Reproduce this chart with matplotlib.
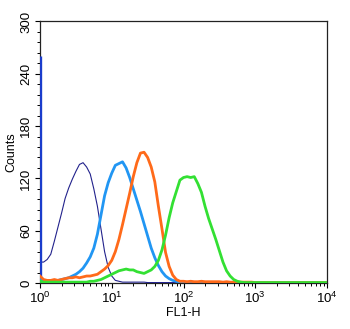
import numpy as np
import matplotlib
matplotlib.use("Agg")
import matplotlib.pyplot as plt
from matplotlib.ticker import MultipleLocator, LogLocator

plt.rcParams["font.family"] = ["Liberation Sans", "DejaVu Sans"]
plt.rcParams["mathtext.fontset"] = "custom"
plt.rcParams["mathtext.rm"] = "Liberation Sans"
plt.rcParams["mathtext.it"] = "Liberation Sans"
plt.rcParams["mathtext.bf"] = "Liberation Sans"

# histogram channels, in decades of FL1-H (10^0 .. 10^4)
log_channels = np.linspace(0.0, 4.0, 81)

# counts per channel
navy_counts = [
    24, 24, 27, 33, 48, 64, 80, 97, 109, 119, 128, 136, 138, 133, 125, 108,
    88, 62, 36, 18, 8, 3, 2, 1, 1, 1, 1, 1, 1, 1, 0.5, 0.5, 0.5, 0.5, 0.5,
    0.5, 0.5, 0.5, 0.5, 0.5, 0, 0, 0, 0, 0, 0, 0, 0, 0, 0, 0, 0, 0, 0, 0,
    0, 0, 0, 0, 0, 0, 0, 0, 0, 0, 0, 0, 0, 0, 0, 0, 0, 0, 0, 0, 0, 0, 0, 0,
    0, 0,
]
navy_spike = 260

lightblue_counts = [
    5, 2, 2, 3, 2, 3, 4, 5, 6, 8, 10, 13, 17, 23, 30, 40, 56, 78, 100, 115,
    126, 135, 137, 139, 132, 121, 108, 95, 82, 68, 54, 40, 29, 20, 13, 8, 5,
    3, 2, 1, 0.5, 0.5, 0, 0, 0, 0, 0, 0, 0, 0, 0, 0, 0, 0, 0, 0, 0, 0, 0, 0,
    0, 0, 0, 0, 0, 0, 0, 0, 0, 0, 0, 0, 0, 0, 0, 0, 0, 0, 0, 0, 0,
]

orange_counts = [
    8, 4, 3, 3, 4, 3, 4, 5, 6, 6, 7, 6, 7, 8, 8, 9, 10, 13, 16, 20, 26, 36,
    50, 67, 85, 103, 122, 138, 149, 150, 144, 133, 116, 88, 62, 35, 19, 9, 4,
    2, 2, 1.5, 2, 1.5, 1.5, 2, 1.5, 1.5, 1.5, 1.5, 1.5, 1, 1.5, 1, 1, 1, 1,
    1, 1, 1, 0.5, 0.5, 0.5, 0.5, 0.5, 0.5, 0.5, 0.5, 0.5, 0.5, 0.5, 0.5, 0.5,
    0.5, 0.5, 0.5, 0.5, 0.5, 0.5, 0.5, 0.5,
]

green_counts = [
    2, 1, 1, 1, 1, 1, 1, 1, 1, 1, 1, 1, 1, 1, 2, 2, 3, 4, 6, 8, 10, 12, 14,
    15, 16, 15, 15, 13, 12, 11, 13, 15, 19, 26, 38, 55, 75, 92, 105, 118, 121,
    122, 121, 122, 114, 104, 88, 74, 62, 50, 37, 24, 14, 8, 4, 2, 1, 0.5, 0.5,
    0.5, 0.5, 0.5, 0.5, 0.5, 0.5, 0.5, 0.5, 0.5, 0.5, 0.5, 0.5, 0.5, 0.5, 0.5,
    0.5, 0.5, 0.5, 0.5, 0.5, 0.5, 0.5,
]

fl1 = 10 ** log_channels

fig = plt.figure(figsize=(3.5, 3.29), dpi=100)
ax = fig.add_axes([0.1143, 0.1398, 0.8200, 0.7950])

ax.plot(fl1, navy_counts, color="#22228c", lw=0.8, zorder=3)
ax.vlines(1.0, 0, navy_spike, color="#1a3ccc", lw=2.4, zorder=3)
ax.plot(fl1, lightblue_counts, color="#2196f3", lw=2.0, zorder=4)
ax.plot(fl1, orange_counts, color="#ff6a1a", lw=2.0, zorder=5)
ax.plot(fl1, green_counts, color="#33e033", lw=2.0, zorder=6)

ax.set_xscale("log")
ax.set_xlim(1, 1e4)
ax.set_ylim(0, 300)

ax.yaxis.set_major_locator(MultipleLocator(60))
ax.yaxis.set_minor_locator(MultipleLocator(12))
ax.xaxis.set_major_locator(LogLocator(base=10, numticks=10))
ax.xaxis.set_minor_locator(LogLocator(base=10, subs=np.arange(2, 10), numticks=10))

ax.tick_params(axis="both", which="major", labelsize=9.5, direction="out",
               length=3.5, width=0.8, pad=2)
ax.tick_params(axis="both", which="minor", direction="out", length=2, width=0.7)
for lbl in ax.get_yticklabels():
    lbl.set_rotation(90)
    lbl.set_va("center")

for spine in ax.spines.values():
    spine.set_linewidth(0.9)
    spine.set_color("#222222")

ax.set_xlabel("FL1-H", fontsize=9, labelpad=1)
ax.set_ylabel("Counts", fontsize=9, labelpad=2)

fig.savefig("out.png", dpi=100)
